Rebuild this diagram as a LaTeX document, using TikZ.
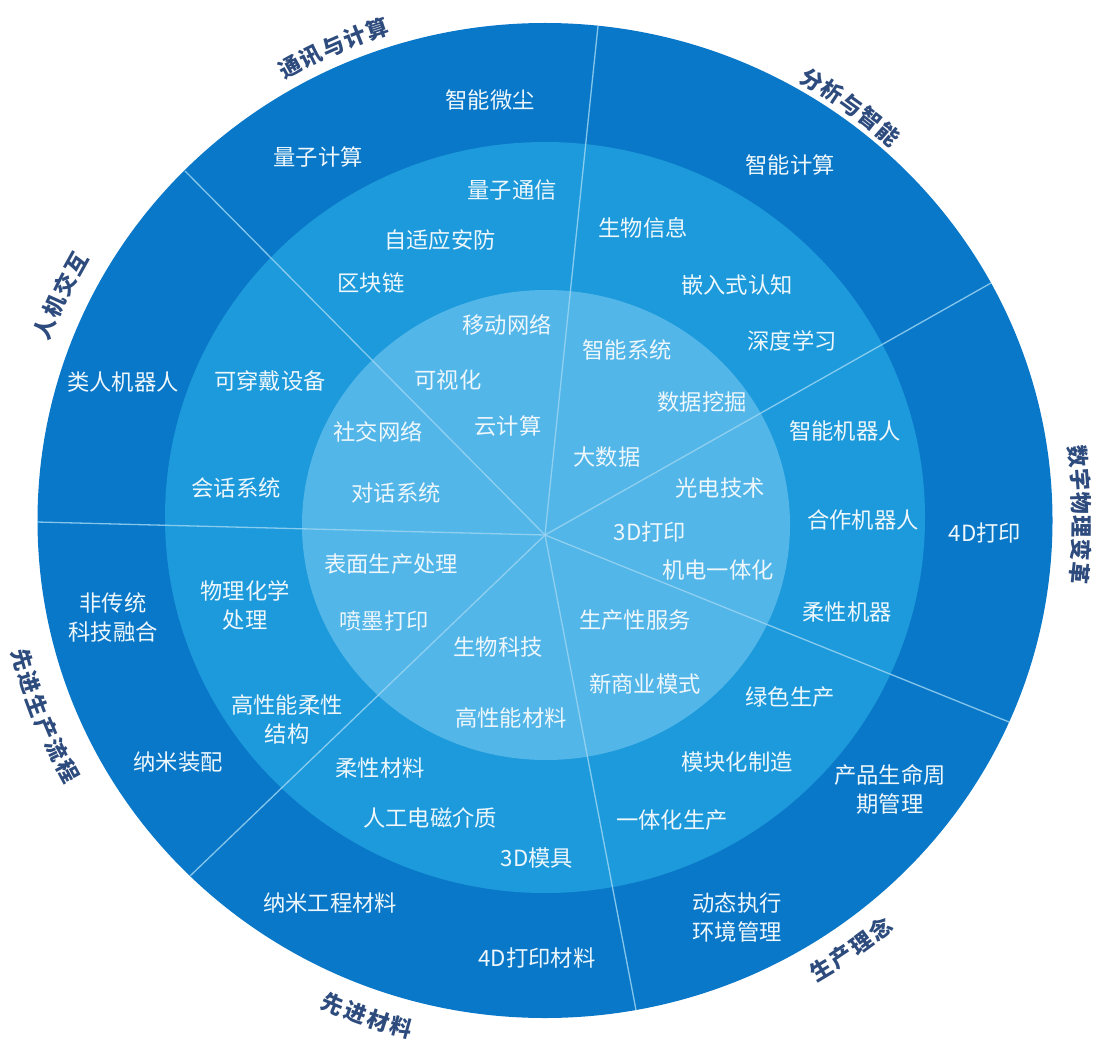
\documentclass[tikz,border=0pt]{standalone}
\usepackage{fontspec}
\setmainfont{Noto Sans CJK SC}
\usetikzlibrary{calc}
\definecolor{ringO}{HTML}{0A78C8}
\definecolor{ringM}{HTML}{1C9ADB}
\definecolor{ringI}{HTML}{52B6E9}
\definecolor{sepline}{HTML}{9AD4F2}
\definecolor{txt}{HTML}{EEF7FC}
\definecolor{navy}{HTML}{2E4B7D}
\tikzset{
  item/.style={text=txt, font=\fontsize{22.3}{29}\selectfont, align=center, inner sep=0pt},
  ttl/.style={text=navy, font=\fontsize{22}{24}\selectfont\bfseries, inner sep=-3pt},
  sepl/.style={draw=sepline, line width=1.3pt, opacity=0.85},
}
\newcommand{\arclab}[7]{%
  \foreach \ch [count=\i] in {#7}{%
    \pgfmathsetmacro{\ang}{#2 + (\i - (#6+1)/2)*#4}%
    \pgfmathsetmacro{\rx}{528*#3}%
    \pgfmathsetmacro{\ry}{518*#3}%
    \pgfmathsetmacro{\rot}{\ang+#5}%
    \node[ttl, rotate=\rot] (#1-\i) at (\ang:\rx pt and \ry pt) {\ch};
  }%
}
\begin{document}
\begin{tikzpicture}[x=1pt,y=-1pt]
\useasboundingbox (0,0) rectangle (1097,1043);
% rings
\fill[ringO] (545,520.5) ellipse [x radius=507.5, y radius=497.5];
\fill[ringM] (545,517.5) ellipse [x radius=380, y radius=375.5];
\fill[ringI] (546,525) ellipse [x radius=244, y radius=235];
% sector lines
\coordinate (O) at (545,535);
\coordinate (e1) at (598,26);
\coordinate (e2) at (991,283);
\coordinate (e3) at (1009,722);
\coordinate (e4) at (636,1010);
\coordinate (e5) at (190,876);
\coordinate (e6) at (37,522);
\coordinate (e7) at (185,171);
\foreach \e in {e1,e2,e3,e4,e5,e6,e7} \draw[sepl] (O) -- (\e);
% outer ring items
\node[item] (o1) at (490,100) {智能微尘};
\node[item] (o2) at (318,157) {量子计算};
\node[item] (o3) at (790,165) {智能计算};
\node[item] (o4) at (123,382) {类人机器人};
\node[item] (o5) at (985,533) {4D打印};
\node[item] (o6) at (113,617) {非传统\\科技融合};
\node[item] (o7) at (178,762) {纳米装配};
\node[item] (o8) at (890,789) {产品生命周\\期管理};
\node[item] (o9) at (330,903) {纳米工程材料};
\node[item] (o10) at (737,918) {动态执行\\环境管理};
\node[item] (o11) at (537,958) {4D打印材料};
% middle ring items
\node[item] (m1) at (512,190) {量子通信};
\node[item] (m2) at (643,228) {生物信息};
\node[item] (m3) at (440,240) {自适应安防};
\node[item] (m4) at (371,283) {区块链};
\node[item] (m5) at (737,285) {嵌入式认知};
\node[item] (m6) at (792,341) {深度学习};
\node[item] (m7) at (270,381) {可穿戴设备};
\node[item] (m8) at (845,431) {智能机器人};
\node[item] (m9) at (236,488) {会话系统};
\node[item] (m10) at (863,520) {合作机器人};
\node[item] (m11) at (245,605) {物理化学\\处理};
\node[item] (m12) at (847,612) {柔性机器};
\node[item] (m13) at (790,697) {绿色生产};
\node[item] (m14) at (287,719) {高性能柔性\\结构};
\node[item] (m15) at (737,762) {模块化制造};
\node[item] (m16) at (380,768) {柔性材料};
\node[item] (m17) at (430,818) {人工电磁介质};
\node[item] (m18) at (672,820) {一体化生产};
\node[item] (m19) at (537,858) {3D模具};
% inner circle items
\node[item] (i1) at (507,325) {移动网络};
\node[item] (i2) at (627,350) {智能系统};
\node[item] (i3) at (448,380) {可视化};
\node[item] (i4) at (702,402) {数据挖掘};
\node[item] (i5) at (378,432) {社交网络};
\node[item] (i6) at (508,426) {云计算};
\node[item] (i7) at (607,457) {大数据};
\node[item] (i8) at (396,493) {对话系统};
\node[item] (i9) at (720,488) {光电技术};
\node[item] (i10) at (650,532) {3D打印};
\node[item] (i11) at (391,564) {表面生产处理};
\node[item] (i12) at (718,570) {机电一体化};
\node[item] (i13) at (384,621) {喷墨打印};
\node[item] (i14) at (635,620) {生产性服务};
\node[item] (i15) at (498,647) {生物科技};
\node[item] (i16) at (645,684) {新商业模式};
\node[item] (i17) at (511,718) {高性能材料};
% curved outer titles
\begin{scope}[shift={(545,520.5)}, y=1pt]
  \arclab{ta}{113.7}{1.0}{-2.6}{-90}{5}{通,讯,与,计,算}
  \arclab{tb}{54.1}{0.99}{-2.6}{-90}{5}{分,析,与,智,能}
  \arclab{tc}{0.6}{1.017}{-2.55}{-90}{6}{数,字,物,理,变,革}
  \arclab{td}{-55.0}{1.012}{2.6}{90}{4}{生,产,理,念}
  \arclab{te}{250.6}{1.016}{2.6}{90}{4}{先,进,材,料}
  \arclab{tf}{201.7}{1.026}{2.6}{90}{6}{先,进,生,产,流,程}
  \arclab{tg}{154.7}{1.017}{-2.6}{-90}{4}{人,机,交,互}
\end{scope}
\end{tikzpicture}
\end{document}
